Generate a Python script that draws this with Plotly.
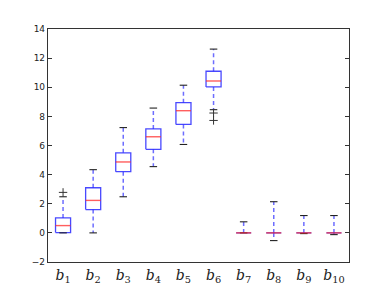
import plotly.graph_objects as go

labels = ["b1", "b2", "b3", "b4", "b5", "b6", "b7", "b8", "b9", "b10"]
q1 = [0.02, 1.6, 4.2, 5.74, 7.45, 10.02, 0.0, 0.0, 0.0, 0.0]
med = [0.5, 2.23, 4.87, 6.6, 8.39, 10.43, 0.0, 0.0, 0.0, 0.0]
q3 = [1.03, 3.1, 5.5, 7.14, 8.94, 11.1, 0.0, 0.0, 0.0, 0.0]
wlo = [0.0, 0.0, 2.48, 4.55, 6.07, 8.46, 0.0, -0.53, -0.05, -0.12]
whi = [2.48, 4.34, 7.23, 8.57, 10.14, 12.62, 0.76, 2.14, 1.19, 1.19]
outliers = [[2.78], [], [], [], [], [8.23, 7.72], [], [], [], []]

BW = 0.25   # half box width
CW = 0.125  # half cap width

fig = go.Figure()
box_x, box_y, med_x, med_y, wh_x, wh_y, cap_x, cap_y, out_x, out_y = ([] for _ in range(10))
for i in range(len(labels)):
    p = i + 1
    box_x += [p - BW, p + BW, p + BW, p - BW, p - BW, None]
    box_y += [q1[i], q1[i], q3[i], q3[i], q1[i], None]
    med_x += [p - BW, p + BW, None]
    med_y += [med[i], med[i], None]
    wh_x += [p, p, None, p, p, None]
    wh_y += [q3[i], whi[i], None, q1[i], wlo[i], None]
    cap_x += [p - CW, p + CW, None, p - CW, p + CW, None]
    cap_y += [whi[i], whi[i], None, wlo[i], wlo[i], None]
    for o in outliers[i]:
        out_x.append(p)
        out_y.append(o)

fig.add_trace(go.Scatter(x=wh_x, y=wh_y, mode="lines",
                         line=dict(color="rgba(60,60,255,0.75)", width=1.5, dash="4px,3px")))
fig.add_trace(go.Scatter(x=box_x, y=box_y, mode="lines",
                         line=dict(color="rgba(40,40,255,0.85)", width=1.3)))
fig.add_trace(go.Scatter(x=cap_x, y=cap_y, mode="lines",
                         line=dict(color="#222222", width=1.1)))
fig.add_trace(go.Scatter(x=med_x, y=med_y, mode="lines",
                         line=dict(color="rgba(255,40,40,0.75)", width=1.4)))
fig.add_trace(go.Scatter(x=out_x, y=out_y, mode="markers",
                         marker=dict(symbol="cross-thin", size=6, line=dict(color="#333333", width=1))))

ticktext = [f"<i>b</i><sub>{l[1:]}</sub>" for l in labels]

# The page body has an 8px default margin; compensate so the plot area lands at 48..349 x 29..262
fig.update_layout(
    width=380, height=283,
    margin=dict(l=40, r=39, t=21, b=29),
    paper_bgcolor="white", plot_bgcolor="white",
    showlegend=False,
    xaxis=dict(range=[0.5, 10.5], tickvals=list(range(1, 11)), ticktext=ticktext,
               automargin=False,
               showgrid=False, zeroline=False, showline=True, linecolor="#333333", linewidth=1.2,
               mirror=True, ticks="", tickfont=dict(family="DejaVu Serif", size=14, color="#222222")),
    yaxis=dict(range=[-2, 14], tickvals=list(range(-2, 15, 2)), showgrid=False, zeroline=False,
               automargin=False,
               showline=True, linecolor="#333333", linewidth=1.2, mirror="ticks",
               ticks="inside", ticklen=4, tickcolor="#333333",
               tickfont=dict(family="DejaVu Sans", size=9, color="#222222")),
)
fig.write_html("out.html")
